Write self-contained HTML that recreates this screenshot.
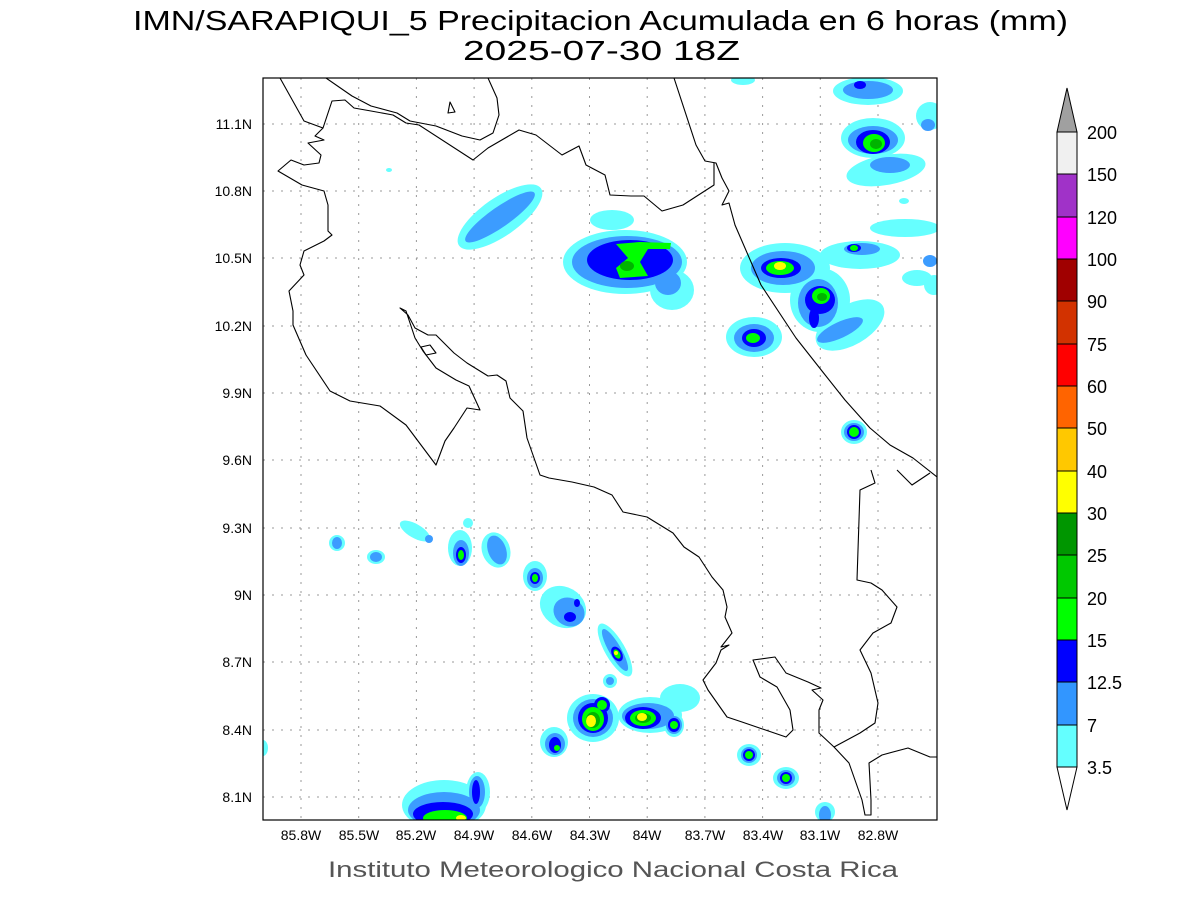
<!DOCTYPE html>
<html><head><meta charset="utf-8"><style>
body{margin:0;background:#fff;width:1200px;height:900px;overflow:hidden}
svg text{font-family:"Liberation Sans","DejaVu Sans",sans-serif}
</style></head><body>
<svg width="1200" height="900" xmlns="http://www.w3.org/2000/svg">
<rect width="1200" height="900" fill="#fff"/>
<text x="133" y="30" font-size="28" textLength="935" lengthAdjust="spacingAndGlyphs">IMN/SARAPIQUI_5 Precipitacion Acumulada en 6 horas (mm)</text>
<text x="463" y="60" font-size="28" textLength="277" lengthAdjust="spacingAndGlyphs">2025-07-30 18Z</text>
<defs><clipPath id="c"><rect x="263" y="78" width="674" height="742"/></clipPath></defs>
<g clip-path="url(#c)">
<g stroke="#999" stroke-width="1" stroke-dasharray="2,7">
<line x1="301" y1="78" x2="301" y2="820"/><line x1="358.7" y1="78" x2="358.7" y2="820"/><line x1="416.4" y1="78" x2="416.4" y2="820"/><line x1="474.1" y1="78" x2="474.1" y2="820"/><line x1="531.8" y1="78" x2="531.8" y2="820"/><line x1="589.5" y1="78" x2="589.5" y2="820"/><line x1="647.2" y1="78" x2="647.2" y2="820"/><line x1="704.9" y1="78" x2="704.9" y2="820"/><line x1="762.6" y1="78" x2="762.6" y2="820"/><line x1="820.3" y1="78" x2="820.3" y2="820"/><line x1="878" y1="78" x2="878" y2="820"/>
<line x1="263" y1="124" x2="937" y2="124"/><line x1="263" y1="191" x2="937" y2="191"/><line x1="263" y1="258" x2="937" y2="258"/><line x1="263" y1="326" x2="937" y2="326"/><line x1="263" y1="393" x2="937" y2="393"/><line x1="263" y1="460" x2="937" y2="460"/><line x1="263" y1="528" x2="937" y2="528"/><line x1="263" y1="595" x2="937" y2="595"/><line x1="263" y1="662" x2="937" y2="662"/><line x1="263" y1="730" x2="937" y2="730"/><line x1="263" y1="797" x2="937" y2="797"/>
</g>
<!-- cyan -->
<g fill="#66ffff">
<ellipse cx="500" cy="217" rx="50" ry="19" transform="rotate(-35 500 217)"/>
<ellipse cx="625" cy="262" rx="62" ry="32"/>
<ellipse cx="612" cy="220" rx="22" ry="10"/>
<ellipse cx="672" cy="290" rx="22" ry="20"/>
<ellipse cx="785" cy="268" rx="45" ry="25"/>
<ellipse cx="820" cy="300" rx="30" ry="32"/>
<ellipse cx="860" cy="255" rx="40" ry="14"/>
<ellipse cx="905" cy="228" rx="35" ry="9"/>
<ellipse cx="754" cy="337" rx="28" ry="20"/>
<ellipse cx="850" cy="325" rx="38" ry="20" transform="rotate(-30 850 325)"/>
<ellipse cx="917" cy="278" rx="15" ry="8"/><ellipse cx="934" cy="285" rx="10" ry="10"/>
<ellipse cx="873" cy="138" rx="32" ry="20"/>
<ellipse cx="886" cy="170" rx="40" ry="15" transform="rotate(-10 886 170)"/>
<ellipse cx="868" cy="91" rx="35" ry="14"/>
<ellipse cx="930" cy="116" rx="14" ry="14"/>
<ellipse cx="743" cy="80" rx="12" ry="5"/>
<ellipse cx="904" cy="201" rx="5" ry="3"/>
<ellipse cx="389" cy="170" rx="3" ry="2"/>
<ellipse cx="854" cy="432" rx="13" ry="12"/>
<ellipse cx="337" cy="543" rx="8" ry="8"/><ellipse cx="376" cy="557" rx="9" ry="7"/>
<ellipse cx="415" cy="531" rx="17" ry="7" transform="rotate(30 415 531)"/>
<ellipse cx="468" cy="523" rx="5" ry="5"/>
<ellipse cx="460" cy="548" rx="12" ry="18"/>
<ellipse cx="496" cy="550" rx="14" ry="18" transform="rotate(-20 496 550)"/>
<ellipse cx="535" cy="576" rx="12" ry="15"/>
<ellipse cx="563" cy="607" rx="24" ry="20" transform="rotate(30 563 607)"/>
<ellipse cx="615" cy="650" rx="30" ry="10" transform="rotate(60 615 650)"/>
<ellipse cx="610" cy="681" rx="7" ry="7"/>
<ellipse cx="593" cy="718" rx="26" ry="24"/>
<ellipse cx="650" cy="715" rx="32" ry="18"/>
<ellipse cx="680" cy="698" rx="20" ry="14"/>
<ellipse cx="674" cy="725" rx="10" ry="12"/>
<ellipse cx="554" cy="742" rx="14" ry="15"/>
<ellipse cx="749" cy="755" rx="12" ry="11"/>
<ellipse cx="786" cy="778" rx="13" ry="11"/>
<ellipse cx="444" cy="805" rx="42" ry="25"/>
<ellipse cx="478" cy="792" rx="12" ry="20"/>
<ellipse cx="825" cy="812" rx="10" ry="10"/>
<ellipse cx="263" cy="748" rx="5" ry="8"/>
</g>
<g fill="#3c9cff">
<ellipse cx="500" cy="217" rx="42" ry="10" transform="rotate(-35 500 217)"/>
<ellipse cx="627" cy="262" rx="55" ry="26"/>
<ellipse cx="668" cy="283" rx="13" ry="12"/>
<ellipse cx="783" cy="268" rx="32" ry="17"/>
<ellipse cx="818" cy="303" rx="20" ry="24"/>
<ellipse cx="862" cy="249" rx="18" ry="6"/>
<ellipse cx="754" cy="338" rx="20" ry="14"/>
<ellipse cx="840" cy="330" rx="25" ry="8" transform="rotate(-25 840 330)"/>
<ellipse cx="873" cy="140" rx="25" ry="14"/>
<ellipse cx="890" cy="165" rx="20" ry="8"/>
<ellipse cx="868" cy="90" rx="25" ry="9"/>
<ellipse cx="928" cy="125" rx="7" ry="6"/>
<ellipse cx="930" cy="261" rx="7" ry="6"/>
<ellipse cx="854" cy="432" rx="10" ry="9"/>
<ellipse cx="337" cy="543" rx="5" ry="6"/><ellipse cx="376" cy="557" rx="6" ry="5"/>
<ellipse cx="429" cy="539" rx="4" ry="4"/>
<ellipse cx="461" cy="553" rx="8" ry="13"/>
<ellipse cx="497" cy="550" rx="9" ry="15" transform="rotate(-20 497 550)"/>
<ellipse cx="535" cy="578" rx="8" ry="10"/>
<ellipse cx="569" cy="612" rx="16" ry="14" transform="rotate(30 569 612)"/>
<ellipse cx="615" cy="650" rx="24" ry="6" transform="rotate(60 615 650)"/>
<ellipse cx="610" cy="681" rx="4" ry="4"/>
<ellipse cx="593" cy="718" rx="20" ry="19"/>
<ellipse cx="648" cy="716" rx="26" ry="13"/>
<ellipse cx="674" cy="725" rx="8" ry="9"/>
<ellipse cx="555" cy="744" rx="10" ry="11"/>
<ellipse cx="749" cy="755" rx="8" ry="8"/>
<ellipse cx="786" cy="778" rx="9" ry="8"/>
<ellipse cx="444" cy="810" rx="36" ry="18"/>
<ellipse cx="477" cy="792" rx="8" ry="16"/>
<ellipse cx="825" cy="815" rx="6" ry="9"/>
</g>
<g fill="#0000ff">
<ellipse cx="630" cy="260" rx="43" ry="20"/>
<ellipse cx="781" cy="268" rx="20" ry="10"/>
<ellipse cx="820" cy="300" rx="15" ry="14"/>
<ellipse cx="814" cy="318" rx="5" ry="10"/>
<ellipse cx="754" cy="338" rx="12" ry="9"/>
<ellipse cx="873" cy="142" rx="17" ry="12"/>
<ellipse cx="860" cy="85" rx="6" ry="4"/>
<ellipse cx="854" cy="248" rx="7" ry="4"/>
<ellipse cx="854" cy="432" rx="7" ry="7"/>
<ellipse cx="461" cy="555" rx="5" ry="8"/>
<ellipse cx="535" cy="578" rx="5" ry="6"/>
<ellipse cx="570" cy="617" rx="6" ry="5"/><ellipse cx="577" cy="603" rx="3" ry="4"/>
<ellipse cx="617" cy="654" rx="8" ry="5" transform="rotate(60 617 654)"/>
<ellipse cx="593" cy="718" rx="15" ry="15"/>
<ellipse cx="602" cy="705" rx="8" ry="8"/>
<ellipse cx="643" cy="718" rx="18" ry="11"/>
<ellipse cx="674" cy="725" rx="6" ry="7"/>
<ellipse cx="555" cy="745" rx="6" ry="8"/>
<ellipse cx="749" cy="755" rx="6" ry="6"/>
<ellipse cx="786" cy="778" rx="6" ry="6"/>
<ellipse cx="443" cy="814" rx="30" ry="12"/>
<ellipse cx="476" cy="792" rx="4" ry="12"/>
</g>
<g fill="#00ff00">
<path d="M616,244 L640,242 L671,243 L670,249 L648,249 L640,262 L648,276 L620,278 L616,268 L628,258 Z"/>
<ellipse cx="780" cy="268" rx="14" ry="7"/>
<ellipse cx="821" cy="296" rx="9" ry="8"/>
<ellipse cx="753" cy="338" rx="7" ry="5"/>
<ellipse cx="874" cy="143" rx="11" ry="9"/>
<ellipse cx="854" cy="248" rx="4" ry="3"/>
<ellipse cx="854" cy="432" rx="5" ry="5"/>
<ellipse cx="461" cy="555" rx="3" ry="5"/>
<ellipse cx="535" cy="578" rx="3" ry="4"/>
<ellipse cx="617" cy="654" rx="5" ry="3" transform="rotate(60 617 654)"/>
<ellipse cx="593" cy="719" rx="11" ry="12"/>
<ellipse cx="602" cy="705" rx="5" ry="5"/>
<ellipse cx="643" cy="718" rx="13" ry="8"/>
<ellipse cx="674" cy="725" rx="4" ry="4"/>
<ellipse cx="557" cy="748" rx="3" ry="3"/>
<ellipse cx="749" cy="755" rx="4" ry="4"/>
<ellipse cx="786" cy="778" rx="4" ry="4"/>
<ellipse cx="445" cy="818" rx="22" ry="8"/>
</g>
<g fill="#00b400">
<ellipse cx="627" cy="266" rx="7" ry="5"/>
<ellipse cx="822" cy="297" rx="5" ry="4"/>
<ellipse cx="876" cy="144" rx="6" ry="5"/>
<ellipse cx="593" cy="720" rx="7" ry="8"/>
<ellipse cx="643" cy="718" rx="8" ry="5"/>
</g>
<g fill="#ffff00">
<ellipse cx="780" cy="266" rx="6" ry="4"/>
<ellipse cx="591" cy="721" rx="5" ry="6"/>
<ellipse cx="642" cy="717" rx="5" ry="4"/>
<ellipse cx="461" cy="818" rx="5" ry="3"/>
<ellipse cx="616" cy="653" rx="2" ry="2"/>
</g>
<!-- coastlines -->
<g fill="none" stroke="#000" stroke-width="1.1" stroke-linejoin="round">
<path d="M280,78 L304,121 L323,128 L332,101 L345,100 L354,108 L371,111 L393,115 L406,123 L419,125 L473,160 L488,148 L519,130 L536,135 L562,155 L579,146 L586,165 L605,175 L610,195 L631,196 L644,196 L662,211 L683,205 L714,185 L714,163"/>
<path d="M323,128 L315,136 L324,140 L308,143 L321,155 L319,163 L304,165 L291,160 L278,171 L302,185 L324,191 L328,205 L328,231 L332,235 L324,241 L304,251 L300,265 L304,275 L289,291 L293,311 L293,325 L306,355 L330,391 L350,401 L380,406 L406,425 L436,465 L445,441 L454,428 L467,408 L480,410 L469,386 L456,380 L436,368 L423,351 L415,338 L406,311 L400,308 L408,315 L415,328 L428,335 L436,335 L454,353 L467,363 L488,376 L497,375 L506,381 L510,398 L523,411 L527,438 L540,475 L549,478 L572,482 L594,487 L612,495 L623,512 L647,517 L673,533 L684,547 L699,557 L712,577 L723,590 L727,607 L725,617 L732,633 L721,647 L729,645 L721,650 L716,663 L703,680 L708,690 L727,717 L742,722 L786,737 L793,730 L790,710 L777,687 L760,677 L753,660 L775,657 L786,673 L808,682 L821,688 L812,690 L823,700 L819,710 L819,733 L834,747 L849,763 L862,800 L865,815 L871,815 L871,800 L869,763 L882,755 L908,748 L930,757 L937,757"/>
<path d="M326,78 L352,96 L371,106 L397,113 L410,121 L436,126 L462,136 L480,140 L493,133 L499,115 L497,98 L488,78"/>
<path d="M674,78 L696,145 L705,161 L716,163 L722,178 L729,191 L722,205 L729,203 L735,225 L761,285 L796,338 L822,371 L845,400 L870,428 L890,445 L913,458 L937,477"/>
<path d="M871,470 L875,483 L860,490 L857,580 L871,583 L882,590 L897,607 L891,623 L873,633 L860,650 L871,673 L878,703 L875,723 L860,733 L834,747"/>
<path d="M897,470 L912,485 L930,473"/>
<path d="M421,347 L430,345 L436,353 L426,355 Z"/>
<path d="M450,102 L455,112 L448,113 Z"/>
</g>
</g>
<rect x="263" y="78" width="674" height="742" fill="none" stroke="#000" stroke-width="1.2"/>
<g font-size="14" text-anchor="middle">
<text x="301" y="840">85.8W</text><text x="359" y="840">85.5W</text><text x="416" y="840">85.2W</text><text x="474" y="840">84.9W</text><text x="532" y="840">84.6W</text><text x="590" y="840">84.3W</text><text x="647" y="840">84W</text><text x="705" y="840">83.7W</text><text x="763" y="840">83.4W</text><text x="820" y="840">83.1W</text><text x="878" y="840">82.8W</text>
</g>
<g font-size="14" text-anchor="end">
<text x="252" y="129">11.1N</text><text x="252" y="196">10.8N</text><text x="252" y="263">10.5N</text><text x="252" y="331">10.2N</text><text x="252" y="398">9.9N</text><text x="252" y="465">9.6N</text><text x="252" y="533">9.3N</text><text x="252" y="600">9N</text><text x="252" y="667">8.7N</text><text x="252" y="735">8.4N</text><text x="252" y="802">8.1N</text>
</g>
<text x="328" y="877" font-size="22" fill="#555" textLength="570" lengthAdjust="spacingAndGlyphs">Instituto Meteorologico Nacional Costa Rica</text>
<g stroke="#000" stroke-width="1">
<polygon points="1057,132 1077,132 1067,88" fill="#a0a0a0"/>
<rect x="1057" y="132" width="20" height="43" fill="#f0f0f0"/>
<rect x="1057" y="174" width="20" height="43" fill="#a032c8"/>
<rect x="1057" y="217" width="20" height="43" fill="#ff00ff"/>
<rect x="1057" y="259" width="20" height="43" fill="#a00000"/>
<rect x="1057" y="301" width="20" height="43" fill="#d23200"/>
<rect x="1057" y="344" width="20" height="43" fill="#ff0000"/>
<rect x="1057" y="386" width="20" height="43" fill="#ff6400"/>
<rect x="1057" y="428" width="20" height="43" fill="#ffc800"/>
<rect x="1057" y="471" width="20" height="43" fill="#ffff00"/>
<rect x="1057" y="513" width="20" height="43" fill="#009600"/>
<rect x="1057" y="555" width="20" height="43" fill="#00c800"/>
<rect x="1057" y="598" width="20" height="43" fill="#00ff00"/>
<rect x="1057" y="640" width="20" height="43" fill="#0000ff"/>
<rect x="1057" y="682" width="20" height="43" fill="#3296ff"/>
<rect x="1057" y="725" width="20" height="42" fill="#64ffff"/>
<polygon points="1057,767 1077,767 1067,810" fill="#fff"/>
</g>
<g font-size="18">
<text x="1087" y="139">200</text><text x="1087" y="181">150</text><text x="1087" y="224">120</text><text x="1087" y="266">100</text><text x="1087" y="308">90</text><text x="1087" y="351">75</text><text x="1087" y="393">60</text><text x="1087" y="435">50</text><text x="1087" y="478">40</text><text x="1087" y="520">30</text><text x="1087" y="562">25</text><text x="1087" y="605">20</text><text x="1087" y="647">15</text><text x="1087" y="689">12.5</text><text x="1087" y="732">7</text><text x="1087" y="774">3.5</text>
</g>
</svg>
</body></html>
